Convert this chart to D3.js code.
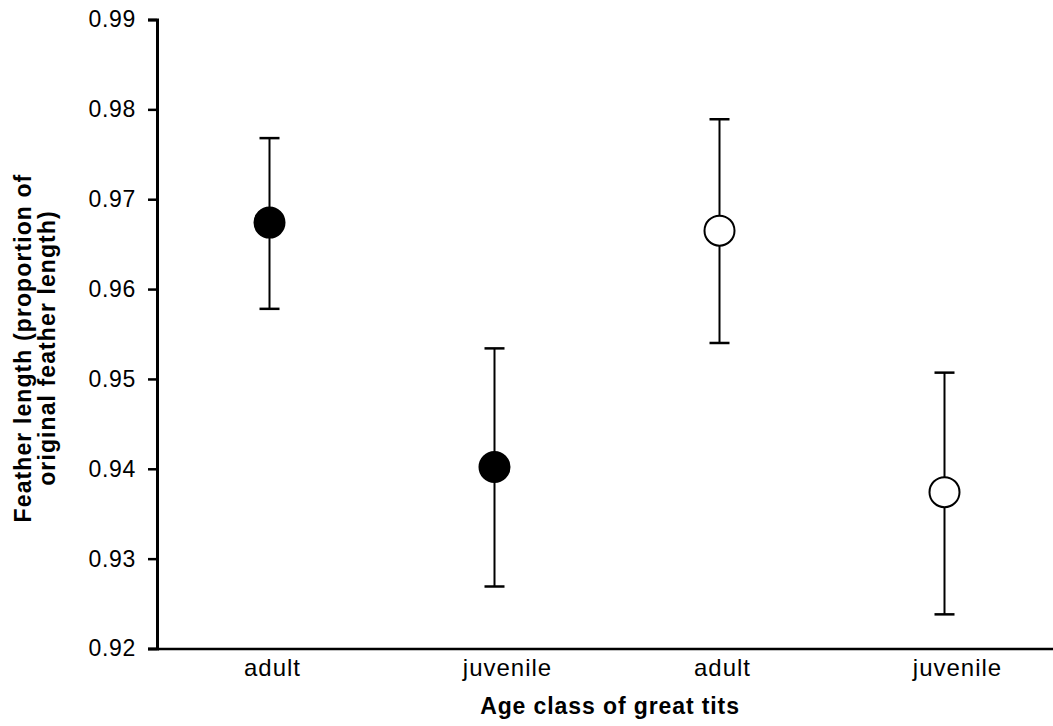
<!DOCTYPE html>
<html>
<head>
<meta charset="utf-8">
<script src="https://cdn.jsdelivr.net/npm/d3@7"></script>
<style>
  html, body { margin: 0; padding: 0; background: #fff; }
  svg { display: block; }
  text { font-family: "Liberation Sans", Arial, sans-serif; fill: #000; }
</style>
</head>
<body>
<svg id="chart" width="1053" height="726"></svg>
<script>
const categories = ["adult", "juvenile", "adult", "juvenile"];
const means      = [0.9674, 0.9402, 0.9665, 0.9374];
const upper      = [0.9768, 0.9534, 0.9789, 0.9507];
const lower      = [0.9578, 0.9269, 0.9540, 0.9238];
const filled     = [true, true, false, false];
const yTicks     = [0.92, 0.93, 0.94, 0.95, 0.96, 0.97, 0.98, 0.99];
const xTitle = "Age class of great tits";
const yTitle = ["Feather length (proportion of", "original feather length)"];

const svg = d3.select("#chart");
const x0 = 157, x1 = 1057, yTop = 19.5, yBot = 648.5;
const FONT = "Liberation Sans, Arial, sans-serif";

const x = d3.scaleBand().domain(d3.range(categories.length)).range([x0, x1]).padding(0);
const y = d3.scaleLinear().domain([0.92, 0.99]).range([yBot, yTop]);

// y axis
const yAxis = svg.append("g").attr("transform", `translate(${x0},0)`)
  .call(d3.axisLeft(y).tickValues(yTicks).tickFormat(d3.format(".2f")).tickSize(9).tickPadding(12));
yAxis.select(".domain").attr("stroke", "#000").attr("stroke-width", 3);
yAxis.selectAll(".tick line").attr("stroke", "#000").attr("stroke-width", 2.5);
yAxis.selectAll(".tick text").style("font-size", "23px").style("font-family", FONT)
  .style("letter-spacing", "0.7px").attr("fill", "#000");

// x axis
const xAxis = svg.append("g").attr("transform", `translate(0,${yBot})`)
  .call(d3.axisBottom(x).tickFormat(i => categories[i]).tickSize(0).tickPadding(10));
xAxis.select(".domain").attr("stroke", "#000").attr("stroke-width", 2.5);
xAxis.selectAll(".tick text").style("font-size", "24px").style("font-family", FONT)
  .style("letter-spacing", "1px").attr("fill", "#000")
  .attr("dx", (d) => categories[d] === "juvenile" ? 13 : 3);

// error bars
const g = svg.append("g");
const idx = d3.range(categories.length);
const cx = i => x(i) + x.bandwidth() / 2;
g.selectAll("line.err").data(idx).enter().append("line")
  .attr("x1", cx).attr("x2", cx)
  .attr("y1", i => y(upper[i])).attr("y2", i => y(lower[i]))
  .attr("stroke", "#000").attr("stroke-width", 2);
g.selectAll("line.capT").data(idx).enter().append("line")
  .attr("x1", i => cx(i) - 10).attr("x2", i => cx(i) + 10)
  .attr("y1", i => y(upper[i])).attr("y2", i => y(upper[i]))
  .attr("stroke", "#000").attr("stroke-width", 2.5);
g.selectAll("line.capB").data(idx).enter().append("line")
  .attr("x1", i => cx(i) - 10).attr("x2", i => cx(i) + 10)
  .attr("y1", i => y(lower[i])).attr("y2", i => y(lower[i]))
  .attr("stroke", "#000").attr("stroke-width", 2.5);
g.selectAll("circle").data(idx).enter().append("circle")
  .attr("cx", cx).attr("cy", i => y(means[i])).attr("r", 15)
  .attr("fill", i => filled[i] ? "#000" : "#fff")
  .attr("stroke", "#000").attr("stroke-width", 2);

// titles
svg.append("text").attr("x", 610).attr("y", 714).attr("text-anchor", "middle")
  .style("font-size", "23px").style("font-weight", "bold").style("letter-spacing", "0.9px")
  .text(xTitle);
const yt = svg.append("text").attr("transform", "translate(0,348) rotate(-90)")
  .attr("text-anchor", "middle").style("font-size", "23px").style("font-weight", "bold")
  .style("letter-spacing", "1.1px");
yt.append("tspan").attr("x", 0).attr("y", 31).text(yTitle[0]);
yt.append("tspan").attr("x", 0).attr("y", 55).text(yTitle[1]);
</script>
</body>
</html>
